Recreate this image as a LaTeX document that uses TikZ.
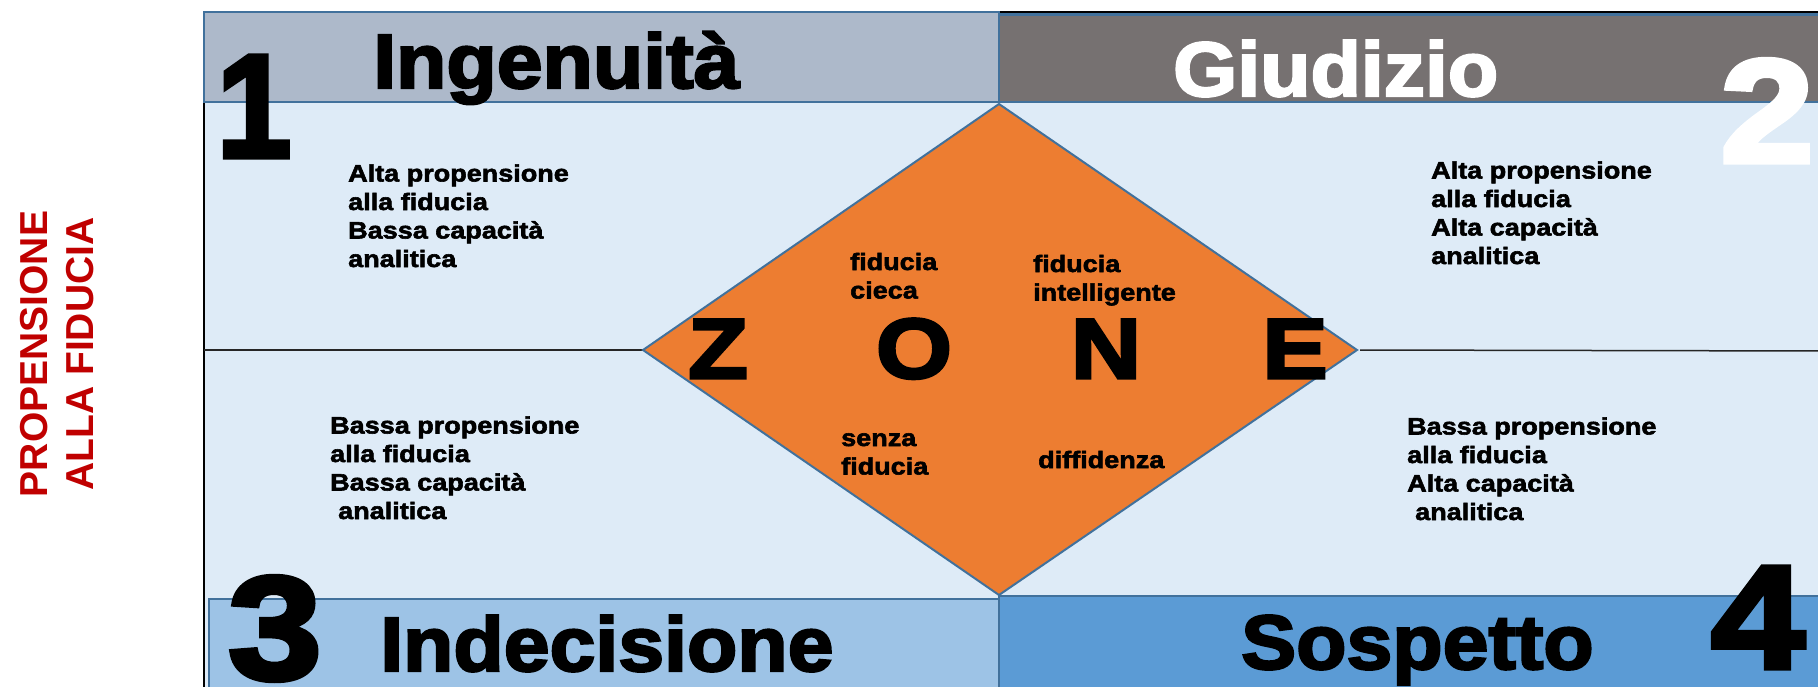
\documentclass[tikz,border=0pt]{standalone}
\usepackage{fontspec}
\newfontfamily\hdrfont[FakeStretch=1.07,FakeBold=3]{Liberation Sans Bold}
\newfontfamily\txtfont[FakeStretch=1.14,FakeBold=2.4]{Liberation Sans Bold}
\newfontfamily\bigfont[FakeStretch=1.15,FakeBold=3.5]{Liberation Sans Bold}
\newfontfamily\sidefont{Liberation Sans Bold}
\definecolor{hdrL}{HTML}{ADB9CA}
\definecolor{hdrR}{HTML}{767171}
\definecolor{bodyc}{HTML}{DEEBF7}
\definecolor{botL}{HTML}{9DC3E6}
\definecolor{botR}{HTML}{5B9BD5}
\definecolor{bordc}{HTML}{41719C}
\definecolor{orng}{HTML}{ED7D31}
\definecolor{redc}{HTML}{C00000}
\tikzset{
  band/.style={draw=bordc,line width=2.5pt},
  outline/.style={draw=black,line width=2pt},
  midline/.style={draw=black!85,line width=1.5pt},
  hdrtext/.style={inner sep=0pt,anchor=base west,font=\hdrfont\fontsize{77}{80}\selectfont},
  bodytext/.style={inner sep=0pt,anchor=base west,align=left,font=\txtfont\fontsize{23.7}{28.5}\selectfont},
  digit/.style={inner sep=0pt,anchor=base,font=\bigfont\fontsize{147}{150}\selectfont},
  zone/.style={inner sep=0pt,anchor=base,font=\bigfont\fontsize{85}{90}\selectfont},
}
\begin{document}
\begin{tikzpicture}[x=1pt,y=-1pt]
\useasboundingbox (0,0) rectangle (1818,686);
\clip (0,0) rectangle (1818,686);
% body
\fill[bodyc] (204,102) rectangle (1830,700);
% outer lines
\draw[outline] (204,12) -- (204,700);
\draw[outline] (999,12) -- (1830,12);
% headers
\path[band,fill=hdrL] (204,12) rectangle (999,102);
\path[band,fill=hdrR] (999,14.5) rectangle (1830,102);
% bottom bands
\path[band,fill=botL] (209,599) rectangle (999,700);
\path[band,fill=botR] (999,596) rectangle (1830,700);
% diamond
\coordinate (dT) at (999,104);
\coordinate (dR) at (1357,350);
\coordinate (dB) at (999,595);
\coordinate (dL) at (643,350);
\coordinate (mL) at (204,350);
\coordinate (mR) at (1830,351);
\draw[midline] (mL) -- (dL);
\draw[midline] ([xshift=3pt]dR) -- (mR);
\filldraw[fill=orng,draw=bordc,line width=2pt,line join=miter] (dT) -- (dR) -- (dB) -- (dL) -- cycle;
% headers text
\node[hdrtext] (ing) at (373,88) {Ingenuità};
\node[hdrtext,text=white] (giu) at (1173,96) {Giudizio};
\node[hdrtext] (ind) at (380,671) {Indecisione};
\node[hdrtext] (sos) at (1241,669) {Sospetto};
% digits
\node[digit] (n1) at (254,157) {\scalebox{0.8}[1]{1}};
\node[digit,text=white] (n2) at (1767,162) {2};
\node[digit] (n3) at (275,679) {3};
\node[digit] (n4) at (1758,668) {4};
% quadrant texts (anchor at the baseline of the last line)
\node[bodytext] (q1) at (348,267) {Alta propensione\\alla fiducia\\Bassa capacità\\analitica};
\node[bodytext] (q2) at (1431,264) {Alta propensione\\alla fiducia\\Alta capacità\\analitica};
\node[bodytext] (q3) at (330,519) {Bassa propensione\\alla fiducia\\Bassa capacità\\\hspace*{8pt}analitica};
\node[bodytext] (q4) at (1407,520) {Bassa propensione\\alla fiducia\\Alta capacità\\\hspace*{8pt}analitica};
% diamond texts
\node[bodytext] (fc) at (850,298.5) {fiducia\\cieca};
\node[bodytext] (fi) at (1033,300.5) {fiducia\\intelligente};
\node[bodytext] (sf) at (841,474.5) {senza\\fiducia};
\node[bodytext] (df) at (1038,468) {diffidenza};
% ZONE
\node[zone] (zz) at (718,378) {Z};
\node[zone] (zo) at (914,378) {O};
\node[zone] (zn) at (1106,378) {N};
\node[zone] (ze) at (1295,378) {E};
% side label
\node[rotate=90,inner sep=0pt,align=center,text=redc,font=\sidefont\fontsize{39}{46}\selectfont] (side) at (57,354) {PROPENSIONE\\ALLA FIDUCIA};
\end{tikzpicture}
\end{document}
